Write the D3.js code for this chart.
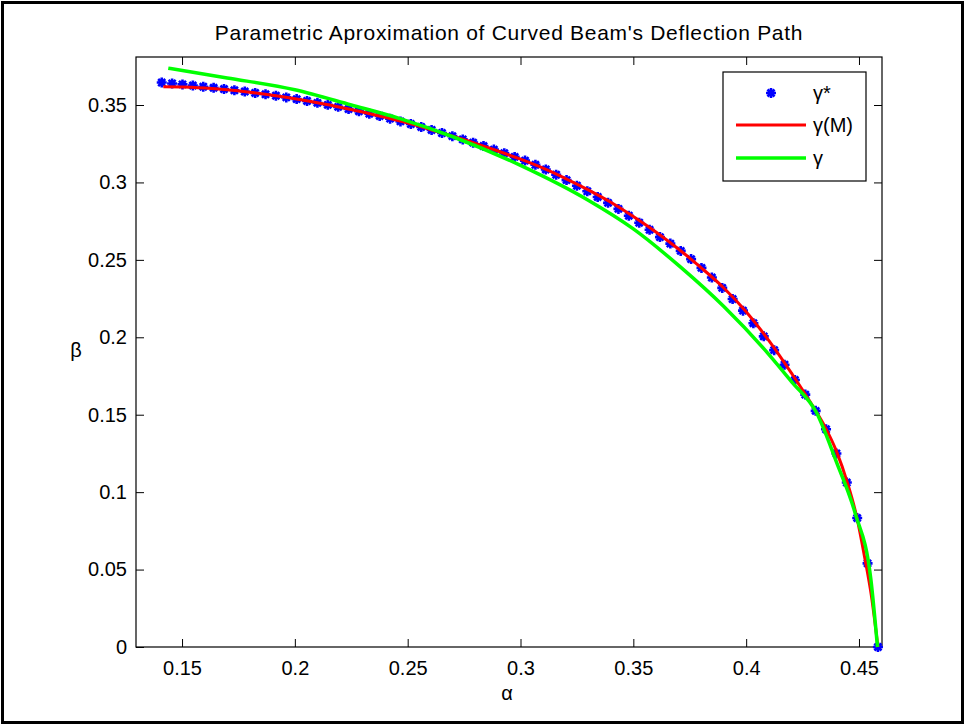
<!DOCTYPE html>
<html><head><meta charset="utf-8">
<script src="https://cdn.jsdelivr.net/npm/d3@7"></script>
<style>body{margin:0;background:#fff}svg{display:block}text{font-family:"Liberation Sans",Arial,sans-serif}</style>
</head><body>
<svg id="c" width="966" height="725"></svg>
<script>
// gamma* samples (blue stars)
const alphaStar = [0.1410,0.1456,0.1502,0.1548,0.1594,0.1640,0.1686,0.1732,0.1778,0.1824,
0.1870,0.1916,0.1962,0.2008,0.2054,0.2100,0.2146,0.2192,0.2238,0.2284,
0.2330,0.2376,0.2422,0.2468,0.2514,0.2560,0.2606,0.2652,0.2698,0.2744,
0.2790,0.2836,0.2882,0.2928,0.2974,0.3020,0.3066,0.3112,0.3158,0.3204,
0.3250,0.3296,0.3342,0.3388,0.3434,0.3480,0.3526,0.3572,0.3618,0.3664,
0.3710,0.3756,0.3802,0.3848,0.3894,0.3940,0.3986,0.4032,0.4078,0.4124,
0.4170,0.4216,0.4262,0.4308,0.4354,0.4400,0.4446,0.4492,0.4538,0.4584];
const betaStar = [0.3645,0.3639,0.3633,0.3626,0.3618,0.3611,0.3603,0.3595,0.3587,0.3578,
0.3569,0.3560,0.3549,0.3538,0.3526,0.3514,0.3501,0.3488,0.3474,0.3460,
0.3444,0.3429,0.3412,0.3394,0.3377,0.3358,0.3339,0.3319,0.3299,0.3278,
0.3257,0.3235,0.3212,0.3189,0.3165,0.3141,0.3114,0.3084,0.3050,0.3015,
0.2979,0.2943,0.2906,0.2868,0.2829,0.2785,0.2740,0.2694,0.2647,0.2605,
0.2558,0.2505,0.2448,0.2386,0.2319,0.2247,0.2172,0.2091,0.2006,0.1917,
0.1823,0.1724,0.1630,0.1525,0.1406,0.1250,0.1062,0.0833,0.0540,0.0000];
// gamma(M) (red)
const alphaM = [0.1417,0.150,0.160,0.170,0.180,0.190,0.200,0.210,0.220,0.230,0.240,0.250,0.260,0.270,0.280,0.290,0.300,0.310,0.320,0.330,0.340,0.350,0.360,0.370,0.380,0.390,0.400,0.410,0.420,0.430,0.435,0.440,0.445,0.449,0.4525,0.4555,0.4584];
const betaM  = [0.3618,0.3617,0.3610,0.3598,0.3582,0.3563,0.3540,0.3514,0.3486,0.3455,0.3420,0.3383,0.3342,0.3298,0.3252,0.3203,0.3150,0.3092,0.3025,0.2952,0.2872,0.2780,0.2680,0.2570,0.2450,0.2320,0.2165,0.1980,0.1770,0.1545,0.1420,0.1265,0.1055,0.0840,0.0580,0.0330,0.0000];
// gamma (green)
const alphaG = [0.1439,0.170,0.200,0.225,0.2466,0.270,0.300,0.330,0.350,0.3707,0.390,0.410,0.420,0.4313,0.4402,0.4483,0.4553,0.4582];
const betaG  = [0.3738,0.3675,0.3598,0.3500,0.3412,0.3295,0.3110,0.2885,0.2700,0.2456,0.2200,0.1890,0.1715,0.1509,0.1187,0.0864,0.0433,0.0000];

const xTicks = [0.15,0.2,0.25,0.3,0.35,0.4,0.45];
const yTicks = [0,0.05,0.1,0.15,0.2,0.25,0.3,0.35];
const xLim = [0.1296,0.4602], yLim = [0,0.381];
const titleText = "Parametric Aproximation of Curved Beam's Deflection Path";
const legendLabels = ["\u03b3*","\u03b3(M)","\u03b3"];

const svg = d3.select("#c");
const L=136,R=882,T=57,B=647;
const x = d3.scaleLinear().domain(xLim).range([L,R]);
const y = d3.scaleLinear().domain(yLim).range([B,T]);
const FS = 20;

// outer frame
svg.append("rect").attr("x",2.5).attr("y",2.5).attr("width",960).attr("height",720)
  .attr("fill","none").attr("stroke","#000").attr("stroke-width",3);

// axes with inward ticks
const tl = 8;
svg.append("g").attr("transform",`translate(0,${B})`)
  .call(d3.axisBottom(x).tickValues(xTicks).tickSize(-tl).tickPadding(tl+6).tickFormat(d3.format("")))
  .call(g=>{g.select(".domain").remove();g.selectAll("text").attr("font-size",FS).attr("fill","#000");});
svg.append("g").attr("transform",`translate(0,${T})`)
  .call(d3.axisTop(x).tickValues(xTicks).tickSize(-tl).tickFormat(""))
  .call(g=>g.select(".domain").remove());
svg.append("g").attr("transform",`translate(${L},0)`)
  .call(d3.axisLeft(y).tickValues(yTicks).tickSize(-tl).tickPadding(9).tickFormat(d3.format("")))
  .call(g=>{g.select(".domain").remove();g.selectAll("text").attr("font-size",FS).attr("fill","#000");});
svg.append("g").attr("transform",`translate(${R},0)`)
  .call(d3.axisRight(y).tickValues(yTicks).tickSize(-tl).tickFormat(""))
  .call(g=>g.select(".domain").remove());
svg.selectAll(".tick line").attr("stroke","#000");
svg.append("rect").attr("x",L).attr("y",T).attr("width",R-L).attr("height",B-T)
  .attr("fill","none").attr("stroke","#000").attr("stroke-width",1.2);

// title & labels
svg.append("text").attr("x",(L+R)/2).attr("y",40).attr("text-anchor","middle")
  .attr("font-size",21).attr("letter-spacing","0.7px").text(titleText);
svg.append("text").attr("x",(L+R)/2-2).attr("y",700).attr("text-anchor","middle")
  .attr("font-size",FS).text("\u03b1");
svg.append("text").attr("x",76).attr("y",357).attr("text-anchor","middle")
  .attr("font-size",FS).text("\u03b2");

// star marker path
function star(s){const d=s*0.7071;return `M${-s},0L${s},0M0,${-s}L0,${s}M${-d},${-d}L${d},${d}M${-d},${d}L${d},${-d}`;}

const plot = svg.append("g");
plot.selectAll("path.st").data(d3.range(alphaStar.length)).join("path")
  .attr("transform",i=>`translate(${x(alphaStar[i])},${y(betaStar[i])})`)
  .attr("d",star(5)).attr("stroke","#0000ff").attr("stroke-width",2.6).attr("fill","none");
const line = d3.line().x(d=>x(d[0])).y(d=>y(d[1])).curve(d3.curveMonotoneX);
plot.append("path").attr("d",line(d3.zip(alphaM,betaM))).attr("fill","none")
  .attr("stroke","#ff0000").attr("stroke-width",3);
plot.append("path").attr("d",line(d3.zip(alphaG,betaG))).attr("fill","none")
  .attr("stroke","#00ff00").attr("stroke-width",3.5);

// legend
const lg = svg.append("g");
lg.append("rect").attr("x",723).attr("y",72).attr("width",143).attr("height",109)
  .attr("fill","#fff").attr("stroke","#000").attr("stroke-width",1.2);
lg.append("path").attr("transform","translate(771,93)").attr("d",star(5))
  .attr("stroke","#0000ff").attr("stroke-width",2.6).attr("fill","none");
lg.append("line").attr("x1",736).attr("x2",806).attr("y1",125).attr("y2",125).attr("stroke","#ff0000").attr("stroke-width",3);
lg.append("line").attr("x1",736).attr("x2",806).attr("y1",158).attr("y2",158).attr("stroke","#00ff00").attr("stroke-width",3.5);
[93,125,158].forEach((yy,i)=>{
  lg.append("text").attr("x",813).attr("y",yy+7).attr("font-size",FS).text(legendLabels[i]);
});
</script>
</body></html>
